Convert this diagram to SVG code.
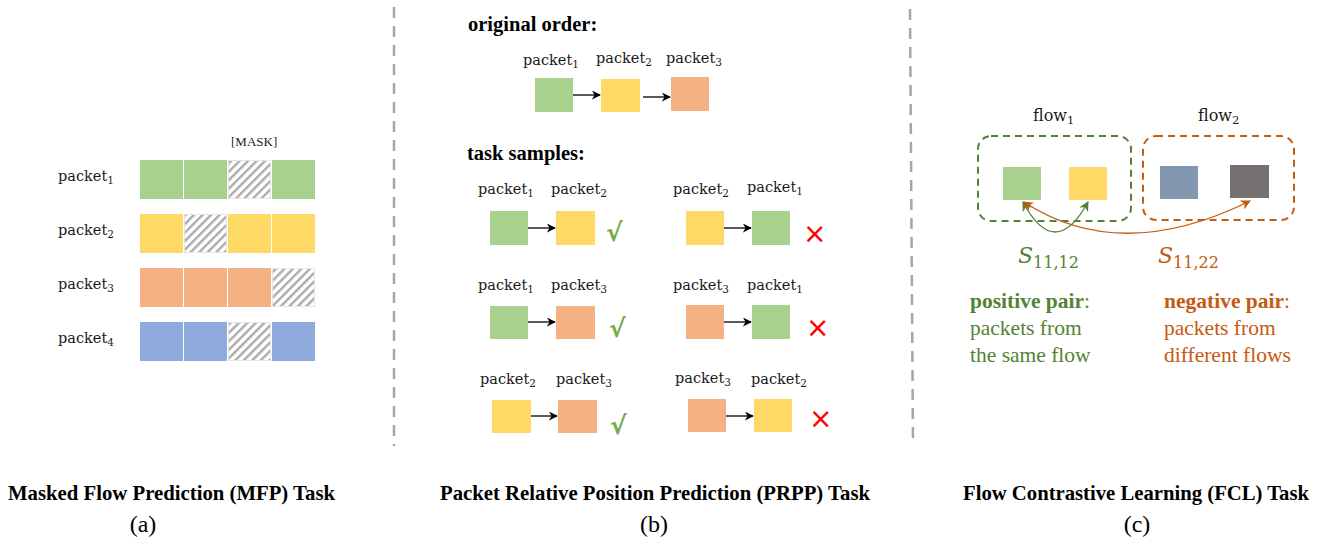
<svg xmlns="http://www.w3.org/2000/svg" width="1325" height="542" viewBox="0 0 1325 542">
<style>
.bg{fill:#ffffff}
.g{fill:#A9D18E}.y{fill:#FFD966}.o{fill:#F4B183}.b{fill:#8FAADC}.bg2{fill:#8497B0}.dk{fill:#767171}
.m{fill:url(#hatch);stroke:#E6E6E6;stroke-width:1}
.pk{font-family:"DejaVu Serif","Liberation Serif",serif;font-size:14.5px;fill:#1a1a1a}
.sub{font-size:10.5px}
.ttl{font-family:"Liberation Serif",serif;font-weight:bold;font-size:20.5px;fill:#000}
.cap{font-family:"Liberation Serif",serif;font-weight:bold;font-size:21px;fill:#000}
.lbl{font-family:"Liberation Serif",serif;font-size:24px;fill:#000}
.arr{stroke:#000;stroke-width:1.3;fill:none;marker-end:url(#ah)}
.ok{font-family:"DejaVu Sans",sans-serif;font-size:25px;font-weight:bold;fill:#70AD47}
.no{font-family:"DejaVu Sans",sans-serif;font-size:28px;fill:#FF0000}
.sep{stroke:#A6A6A6;stroke-width:2.5;stroke-dasharray:11 8;fill:none}
.pos{font-family:"Liberation Serif",serif;font-size:21.5px;fill:#548235}
.neg{font-family:"Liberation Serif",serif;font-size:21.5px;fill:#C55A11}
</style>
<defs>
<pattern id="hatch" patternUnits="userSpaceOnUse" width="6" height="6" patternTransform="rotate(45)">
<rect width="6" height="6" fill="#ffffff"/>
<rect width="2.4" height="6" fill="#ABABAB"/>
</pattern>
<marker id="ah" viewBox="0 0 10 10" refX="9" refY="5" markerWidth="9" markerHeight="9" markerUnits="userSpaceOnUse" orient="auto">
<path d="M0,0 L10,5 L0,10 L3,5 z" fill="#000"/>
</marker>
<marker id="ahg" viewBox="0 0 10 10" refX="9" refY="5" markerWidth="10" markerHeight="10" markerUnits="userSpaceOnUse" orient="auto-start-reverse">
<path d="M0,0 L10,5 L0,10 L3,5 z" fill="#548235"/>
</marker>
<marker id="aho" viewBox="0 0 10 10" refX="9" refY="5" markerWidth="10" markerHeight="10" markerUnits="userSpaceOnUse" orient="auto-start-reverse">
<path d="M0,0 L10,5 L0,10 L3,5 z" fill="#C55A11"/>
</marker>
</defs>
<rect class="bg" x="0" y="0" width="1325" height="542"/>

<g id="separators">
<line class="sep" x1="394" y1="7" x2="394" y2="446"/>
<line class="sep" x1="910" y1="9" x2="913" y2="446"/>
</g>

<!-- Panel (a) -->
<g id="mfp">
<text x="231" y="146" style="font-family:'Liberation Serif',serif;font-size:13px;fill:#222">[MASK]</text>
<g id="mfp-row1">
<text class="pk" x="58" y="181">packet<tspan class="sub" dy="3">1</tspan></text>
<rect class="g" x="140" y="160" width="43" height="39"/>
<rect class="g" x="184" y="160" width="43" height="39"/>
<rect class="m" x="228.5" y="160.5" width="42" height="38"/>
<rect class="g" x="272" y="160" width="43" height="39"/>
</g>
<g id="mfp-row2">
<text class="pk" x="58" y="235">packet<tspan class="sub" dy="3">2</tspan></text>
<rect class="y" x="140" y="214" width="43" height="39"/>
<rect class="m" x="184.5" y="214.5" width="42" height="38"/>
<rect class="y" x="228" y="214" width="43" height="39"/>
<rect class="y" x="272" y="214" width="43" height="39"/>
</g>
<g id="mfp-row3">
<text class="pk" x="58" y="289">packet<tspan class="sub" dy="3">3</tspan></text>
<rect class="o" x="140" y="268" width="43" height="39"/>
<rect class="o" x="184" y="268" width="43" height="39"/>
<rect class="o" x="228" y="268" width="43" height="39"/>
<rect class="m" x="272.5" y="268.5" width="42" height="38"/>
</g>
<g id="mfp-row4">
<text class="pk" x="58" y="343">packet<tspan class="sub" dy="3">4</tspan></text>
<rect class="b" x="140" y="322" width="43" height="39"/>
<rect class="b" x="184" y="322" width="43" height="39"/>
<rect class="m" x="228.5" y="322.5" width="42" height="38"/>
<rect class="b" x="272" y="322" width="43" height="39"/>
</g>
<text class="cap" x="171.5" y="500" text-anchor="middle" textLength="327" lengthAdjust="spacingAndGlyphs">Masked Flow Prediction (MFP) Task</text>
<text class="lbl" x="143" y="532" text-anchor="middle">(a)</text>
</g>

<!-- Panel (b) -->
<g id="prpp">
<text class="ttl" x="468" y="31">original order:</text>
<g id="orig">
<text class="pk" x="523" y="65">packet<tspan class="sub" dy="3">1</tspan></text>
<text class="pk" x="596" y="63">packet<tspan class="sub" dy="3">2</tspan></text>
<text class="pk" x="666" y="63">packet<tspan class="sub" dy="3">3</tspan></text>
<rect class="g" x="535" y="78" width="38" height="34"/>
<rect class="y" x="601" y="79" width="39" height="33"/>
<rect class="o" x="671" y="77" width="38" height="34"/>
</g>
<text class="ttl" x="467" y="160">task samples:</text>
<g id="s1">
<text class="pk" x="478" y="194">packet<tspan class="sub" dy="3">1</tspan></text>
<text class="pk" x="551" y="194">packet<tspan class="sub" dy="3">2</tspan></text>
<rect class="g" x="490" y="211" width="38" height="34"/>
<rect class="y" x="556" y="211" width="39" height="34"/>
<text class="ok" x="606" y="241">√</text>
</g>
<g id="s2">
<text class="pk" x="673" y="194">packet<tspan class="sub" dy="3">2</tspan></text>
<text class="pk" x="747" y="192">packet<tspan class="sub" dy="3">1</tspan></text>
<rect class="y" x="686" y="211" width="38" height="34"/>
<rect class="g" x="752" y="211" width="38" height="34"/>
<text class="no" x="803" y="243">×</text>
</g>
<g id="s3">
<text class="pk" x="478" y="290">packet<tspan class="sub" dy="3">1</tspan></text>
<text class="pk" x="551" y="290">packet<tspan class="sub" dy="3">3</tspan></text>
<rect class="g" x="490" y="306" width="38" height="33"/>
<rect class="o" x="556" y="306" width="39" height="33"/>
<text class="ok" x="609" y="337">√</text>
</g>
<g id="s4">
<text class="pk" x="673" y="290">packet<tspan class="sub" dy="3">3</tspan></text>
<text class="pk" x="747" y="290">packet<tspan class="sub" dy="3">1</tspan></text>
<rect class="o" x="686" y="305" width="38" height="34"/>
<rect class="g" x="752" y="305" width="38" height="34"/>
<text class="no" x="806" y="337">×</text>
</g>
<g id="s5">
<text class="pk" x="480" y="384">packet<tspan class="sub" dy="3">2</tspan></text>
<text class="pk" x="556" y="384">packet<tspan class="sub" dy="3">3</tspan></text>
<rect class="y" x="492" y="400" width="39" height="33"/>
<rect class="o" x="558" y="400" width="39" height="33"/>
<text class="ok" x="610" y="434">√</text>
</g>
<g id="s6">
<text class="pk" x="675" y="383">packet<tspan class="sub" dy="3">3</tspan></text>
<text class="pk" x="751" y="384">packet<tspan class="sub" dy="3">2</tspan></text>
<rect class="o" x="688" y="399" width="38" height="33"/>
<rect class="y" x="754" y="399" width="38" height="33"/>
<text class="no" x="809" y="428">×</text>
</g>
<text class="cap" x="655" y="500" text-anchor="middle" textLength="430" lengthAdjust="spacingAndGlyphs">Packet Relative Position Prediction (PRPP) Task</text>
<text class="lbl" x="654" y="532" text-anchor="middle">(b)</text>
</g>

<!-- Panel (c) -->
<g id="fcl">
<g id="flow1">
<rect x="978" y="136" width="153" height="85" rx="13" fill="none" stroke="#548235" stroke-width="2" stroke-dasharray="7 5"/>
<text class="pk" x="1033" y="121" style="font-size:16px">flow<tspan class="sub" dy="3" style="font-size:11.5px">1</tspan></text>
<rect class="g" x="1003" y="167" width="38" height="33"/>
<rect class="y" x="1069" y="167" width="38" height="33"/>
</g>
<g id="flow2">
<rect x="1143" y="136" width="151" height="84" rx="13" fill="none" stroke="#C55A11" stroke-width="2" stroke-dasharray="7 5"/>
<text class="pk" x="1198" y="121" style="font-size:16px">flow<tspan class="sub" dy="3" style="font-size:11.5px">2</tspan></text>
<rect class="bg2" x="1160" y="166" width="38" height="33"/>
<rect class="dk" x="1230" y="165" width="39" height="33"/>
</g>
<g id="connectors">
<path d="M1023,202 Q1055,262 1088,202" fill="none" stroke="#548235" stroke-width="1.3" marker-start="url(#ahg)" marker-end="url(#ahg)"/>
<path d="M1024,202 Q1120,265 1250,201" fill="none" stroke="#C55A11" stroke-width="1.3" marker-start="url(#aho)" marker-end="url(#aho)"/>
</g>
<text x="1018" y="263" style="font-family:'DejaVu Serif',serif;font-style:italic;font-size:22px;fill:#548235">S<tspan dy="5" style="font-style:normal;font-size:16px">11,12</tspan></text>
<text x="1158" y="263" style="font-family:'DejaVu Serif',serif;font-style:italic;font-size:22px;fill:#C55A11">S<tspan dy="5" style="font-style:normal;font-size:16px">11,22</tspan></text>
<text class="pos" x="970" y="308"><tspan font-weight="bold">positive pair</tspan>:</text>
<text class="pos" x="970" y="335">packets from</text>
<text class="pos" x="970" y="362">the same flow</text>
<text class="neg" x="1164" y="308"><tspan font-weight="bold">negative pair</tspan>:</text>
<text class="neg" x="1164" y="335">packets from</text>
<text class="neg" x="1164" y="362">different flows</text>
<text class="cap" x="1136" y="500" text-anchor="middle" textLength="346" lengthAdjust="spacingAndGlyphs">Flow Contrastive Learning (FCL) Task</text>
<text class="lbl" x="1137" y="532" text-anchor="middle">(c)</text>
</g>

<g id="arrows">
<line class="arr" x1="573" y1="95" x2="600" y2="95"/>
<line class="arr" x1="643" y1="97" x2="670" y2="97"/>
<line class="arr" x1="528" y1="228" x2="555" y2="228"/>
<line class="arr" x1="724" y1="228" x2="751" y2="228"/>
<line class="arr" x1="528" y1="322" x2="555" y2="322"/>
<line class="arr" x1="724" y1="322" x2="751" y2="322"/>
<line class="arr" x1="531" y1="416" x2="557" y2="416"/>
<line class="arr" x1="726" y1="416" x2="753" y2="416"/>
</g>
</svg>
